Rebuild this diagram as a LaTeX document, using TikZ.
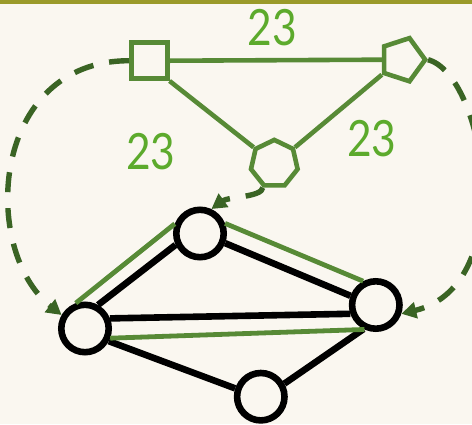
\documentclass[tikz,border=0pt]{standalone}
\usepackage{fontspec}
\setmainfont{Lato}
\usetikzlibrary{shapes.geometric,arrows.meta}

\definecolor{paper}{HTML}{FAF7F0}
\definecolor{barolive}{HTML}{9A9A2A}
\definecolor{shapegreen}{HTML}{578A36}
\definecolor{labelgreen}{HTML}{5CAA2C}
\definecolor{dashgreen}{HTML}{3A6424}

\tikzset{
  gshape/.style={draw=shapegreen, line width=4.6pt, fill=paper, inner sep=0pt},
  gedge/.style={draw=shapegreen, line width=4.6pt},
  vertex/.style={circle, draw=black, line width=6.6pt, fill=paper,
                 minimum size=47.4pt, inner sep=0pt},
  bedge/.style={draw=black, line width=6.6pt},
  hedge/.style={draw=shapegreen, line width=4.8pt},
  weight/.style={text=labelgreen, font=\fontsize{50}{50}\selectfont, inner sep=0pt},
  mapto/.style={draw=dashgreen, line width=5.4pt, dash pattern=on 20pt off 16pt,
                -{Triangle[length=15pt,width=16pt]}, fill=none},
}

\begin{document}
\begin{tikzpicture}[x=1pt, y=-1pt]
  % canvas and header bar
  \fill[paper] (0,0) rectangle (472,424);
  \useasboundingbox (0,0) rectangle (472,424);
  \clip (0,0) rectangle (472,424);
  \fill[barolive] (0,0) rectangle (472,4);

  % small pattern graph
  \node[gshape, rectangle, minimum size=36pt] (S) at (149.3,60.7) {};
  \node[gshape, regular polygon, regular polygon sides=5,
        shape border rotate=-90, minimum size=45.4pt] (P) at (402.5,59.7) {};
  \node[gshape, regular polygon, regular polygon sides=7,
        minimum size=47.8pt] (H) at (274.3,163.8) {};

  \draw[gedge] (S.east) -- (P.180);
  \draw[gedge] (S.south east) -- (H.corner 2);
  \draw[gedge] (H.corner 7) -- (P.corner 4);

  \node[weight] (w1) at (272.5,27.5) {\scalebox{0.85}[1]{23}};
  \node[weight] (w2) at (151,152) {\scalebox{0.85}[1]{23}};
  \node[weight] (w3) at (371.7,139) {\scalebox{0.85}[1]{23}};

  % host graph
  \node[vertex] (L) at (85,328.5) {};
  \node[vertex] (T) at (200,233.5) {};
  \node[vertex] (R) at (375.8,305) {};
  \node[vertex] (B) at (260.8,396.7) {};

  \draw[bedge] (L.61) -- (T.205);
  \draw[bedge] (T.339) -- (R.160);
  \draw[bedge] (L.22) -- (R.199);
  \draw[bedge] (L.332) -- (B.162);
  \draw[bedge] (B.29) -- (R.243);

  % embedded image of the pattern
  \draw[hedge] (L.110) -- (T.159);
  \draw[hedge] (T.22) -- (R.118);
  \draw[hedge] (L.339) -- (R.245);

  % vertex mapping
  \draw[mapto] (S.west) .. controls (-10,61) and (-20,250) .. (L.150);
  \draw[mapto] (P.corner 1) .. controls (485,75) and (520,285) .. (R.-19);
  \draw[mapto] (H.corner 4) .. controls (262,197) and (228,197) .. (T.65);
\end{tikzpicture}
\end{document}
